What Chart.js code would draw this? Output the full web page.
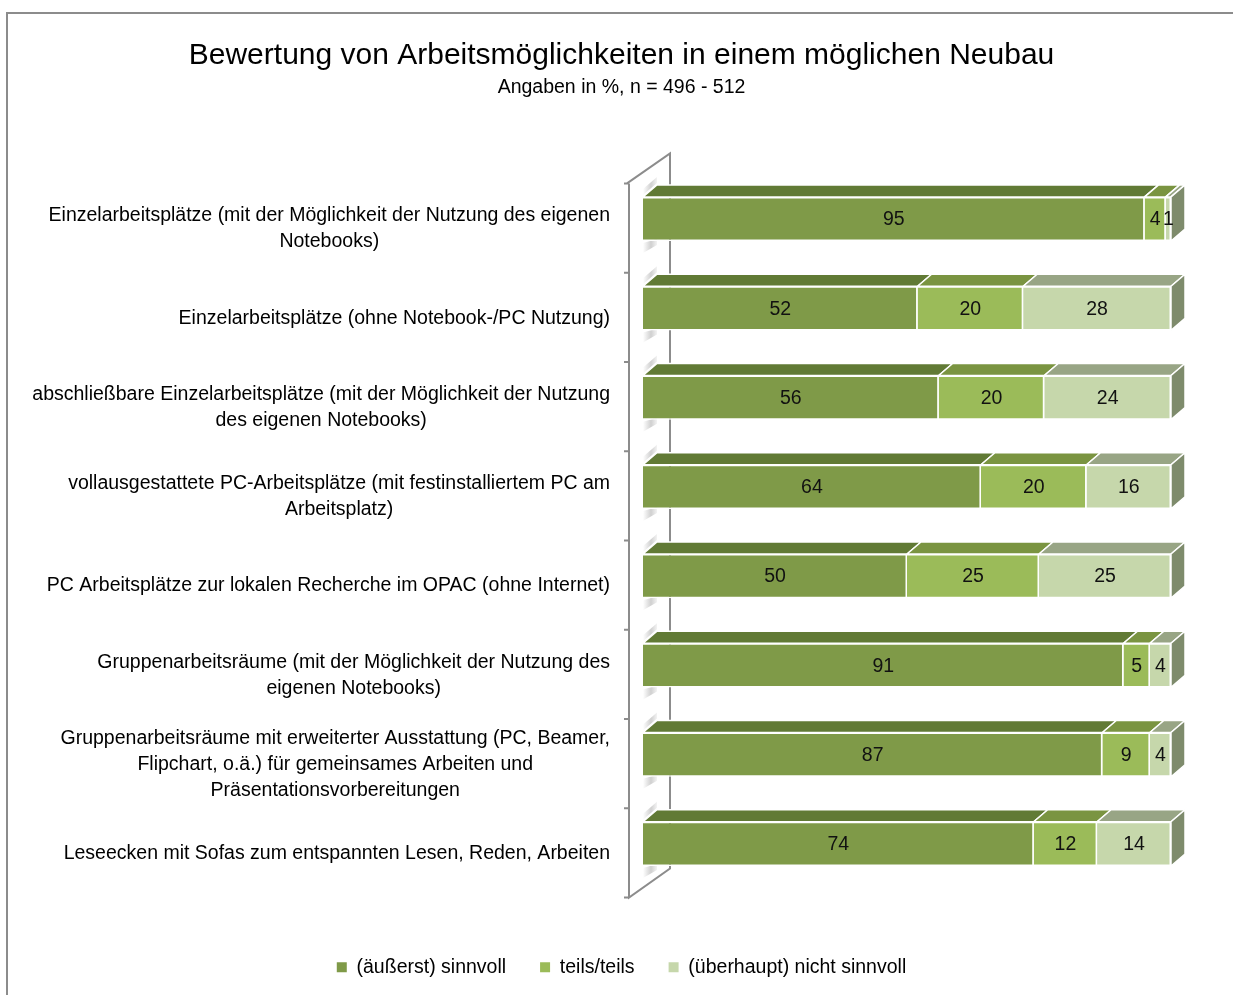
<!DOCTYPE html>
<html>
<head>
<meta charset="utf-8">
<script src="https://cdn.jsdelivr.net/npm/chart.js@4.4.1/dist/chart.umd.min.js"></script>
<style>
  html, body { margin: 0; padding: 0; background: #fff; }
</style>
</head>
<body>
<canvas id="chart" width="1233" height="995"></canvas>
<script>
// Kategorien (mit Zeilenumbrüchen wie im Original)
const categories = [
    ['Einzelarbeitsplätze (mit der Möglichkeit der Nutzung des eigenen', 'Notebooks)'],
    ['Einzelarbeitsplätze (ohne Notebook-/PC Nutzung)'],
    ['abschließbare Einzelarbeitsplätze (mit der Möglichkeit der Nutzung', 'des eigenen Notebooks)'],
    ['vollausgestattete PC-Arbeitsplätze (mit festinstalliertem PC am', 'Arbeitsplatz)'],
    ['PC Arbeitsplätze zur lokalen Recherche im OPAC (ohne Internet)'],
    ['Gruppenarbeitsräume (mit der Möglichkeit der Nutzung des', 'eigenen Notebooks)'],
    ['Gruppenarbeitsräume mit erweiterter Ausstattung (PC, Beamer,', 'Flipchart, o.ä.) für gemeinsames Arbeiten und', 'Präsentationsvorbereitungen'],
    ['Leseecken mit Sofas zum entspannten Lesen, Reden, Arbeiten']
];
const seriesNames = ['(äußerst) sinnvoll', 'teils/teils', '(überhaupt) nicht sinnvoll'];
const sinnvoll = [95, 52, 56, 64, 50, 91, 87, 74];
const teilsTeils = [4, 20, 20, 20, 25, 5, 9, 12];
const nichtSinnvoll = [1, 28, 24, 16, 25, 4, 4, 14];

const frontColors = ['#7F9A48', '#9BBB59', '#C6D7AB'];
const topColors = ['#617A35', '#7A9441', '#98A585'];
const sideColor = '#7E8B6C';
const FONT = "'Liberation Sans', Arial, sans-serif";
const TXT = 19.5;

const DX = 14, DY = 12; // Tiefe der Balken

Chart.defaults.font.family = FONT;
Chart.defaults.color = '#000';

// Rahmen, Wand und Schatten
const backdrop = {
    id: 'backdrop',
    beforeDraw(chart) {
        const ctx = chart.ctx;
        ctx.save();
        ctx.fillStyle = '#fff';
        ctx.fillRect(0, 0, chart.width, chart.height);
        ctx.strokeStyle = '#8c8c8c';
        ctx.lineWidth = 2;
        ctx.beginPath();
        ctx.moveTo(7, chart.height);
        ctx.lineTo(7, 13);
        ctx.lineTo(chart.width, 13);
        ctx.stroke();
        ctx.restore();
    },
    beforeDatasetsDraw(chart) {
        const ctx = chart.ctx;
        const {left, top, bottom} = chart.chartArea;
        const n = categories.length;
        const band = (bottom - top) / n;
        const fx = left - 14, bx = left + 27;
        ctx.save();
        ctx.strokeStyle = '#8c8c8c';
        ctx.lineWidth = 2;
        ctx.beginPath();
        ctx.moveTo(fx - 2, top + 9);
        ctx.lineTo(bx, top - 21);
        ctx.lineTo(bx, bottom - 20);
        ctx.lineTo(fx, bottom + 9);
        ctx.lineTo(fx, top + 9);
        for (let k = 0; k <= n; k++) {
            const ty = top + 9 + k * band;
            ctx.moveTo(fx - 5, ty);
            ctx.lineTo(fx, ty);
        }
        ctx.stroke();

        // weiche Schatten an der Wand
        const meta = chart.getDatasetMeta(0);
        meta.data.forEach(bar => {
            const {y, height} = bar.getProps(['y', 'height'], true);
            const t = y - height / 2, b = y + height / 2;
            let g = ctx.createLinearGradient(left, 0, left + 16, 0);
            g.addColorStop(0, 'rgba(120,120,120,0.0)');
            g.addColorStop(0.5, 'rgba(120,120,120,0.35)');
            g.addColorStop(1, 'rgba(120,120,120,0.0)');
            ctx.fillStyle = g;
            ctx.beginPath();
            ctx.moveTo(left, t - 2);
            ctx.lineTo(left + DX, t - DY - 2);
            ctx.lineTo(left + DX, t - DY - 8);
            ctx.lineTo(left, t - 8);
            ctx.closePath();
            ctx.fill();
            ctx.beginPath();
            ctx.moveTo(left, b + 2);
            ctx.lineTo(left + DX, b - DY + 10);
            ctx.lineTo(left + DX, b - DY + 16);
            ctx.lineTo(left, b + 12);
            ctx.closePath();
            ctx.fill();
        });
        ctx.restore();
    },
    afterDatasetsDraw(chart) {
        const ctx = chart.ctx;
        const last = chart.data.datasets.length - 1;
        ctx.save();
        ctx.strokeStyle = '#fff';
        ctx.lineWidth = 1.5;
        ctx.lineJoin = 'round';
        chart.data.datasets.forEach((ds, di) => {
            const meta = chart.getDatasetMeta(di);
            meta.data.forEach((bar, i) => {
                if (!ds.data[i]) return;
                const {x, y, base, height} = bar.getProps(['x', 'y', 'base', 'height'], true);
                const t = y - height / 2, b = y + height / 2;
                ctx.fillStyle = topColors[di];
                ctx.beginPath();
                ctx.moveTo(base, t);
                ctx.lineTo(base + DX, t - DY);
                ctx.lineTo(x + DX, t - DY);
                ctx.lineTo(x, t);
                ctx.closePath();
                ctx.fill();
                ctx.stroke();
                if (di === last) {
                    ctx.fillStyle = sideColor;
                    ctx.beginPath();
                    ctx.moveTo(x, t);
                    ctx.lineTo(x + DX, t - DY);
                    ctx.lineTo(x + DX, b - DY);
                    ctx.lineTo(x, b);
                    ctx.closePath();
                    ctx.fill();
                    ctx.stroke();
                }
            });
        });

        // Werte
        ctx.fillStyle = '#111';
        ctx.font = TXT + 'px ' + FONT;
        ctx.textAlign = 'center';
        ctx.textBaseline = 'middle';
        chart.data.datasets.forEach((ds, di) => {
            const meta = chart.getDatasetMeta(di);
            meta.data.forEach((bar, i) => {
                if (!ds.data[i]) return;
                const {x, y, base} = bar.getProps(['x', 'y', 'base'], true);
                ctx.fillText(String(ds.data[i]), (x + base) / 2, y + 1);
            });
        });
        ctx.restore();
    },
    afterDraw(chart) {
        // Kategorienbeschriftung: Block rechtsbündig, Zeilen zentriert
        const ctx = chart.ctx;
        const yScale = chart.scales.y;
        const right = chart.chartArea.left - 33;
        ctx.save();
        ctx.fillStyle = '#000';
        ctx.font = TXT + 'px ' + FONT;
        ctx.textAlign = 'center';
        ctx.textBaseline = 'middle';
        categories.forEach((lines, i) => {
            const cy = yScale.getPixelForValue(i) + 10;
            const w = Math.max(...lines.map(l => ctx.measureText(l).width));
            const cx = right - w / 2;
            lines.forEach((l, j) => {
                ctx.fillText(l, cx, cy + (j - (lines.length - 1) / 2) * 26);
            });
        });
        ctx.restore();
    }
};

new Chart(document.getElementById('chart'), {
    type: 'bar',
    data: {
        labels: categories.map(l => l.join(' ')),
        datasets: [
            { label: seriesNames[0], data: sinnvoll, backgroundColor: frontColors[0] },
            { label: seriesNames[1], data: teilsTeils, backgroundColor: frontColors[1] },
            { label: seriesNames[2], data: nichtSinnvoll, backgroundColor: frontColors[2] }
        ]
    },
    options: {
        indexAxis: 'y',
        responsive: false,
        animation: false,
        datasets: {
            bar: {
                borderColor: '#fff',
                borderWidth: 1.5,
                categoryPercentage: 1,
                barPercentage: 0.495
            }
        },
        layout: {
            padding: { top: 13, left: 72, right: 62, bottom: 8 }
        },
        scales: {
            x: {
                stacked: true,
                min: 0,
                max: 100,
                ticks: { display: false },
                grid: { display: false },
                border: { display: false },
                afterFit(scale) { scale.height = 35; }
            },
            y: {
                stacked: true,
                ticks: { display: false },
                grid: { display: false },
                border: { display: false },
                afterFit(scale) { scale.width = 571; }
            }
        },
        plugins: {
            title: {
                display: true,
                text: 'Bewertung von Arbeitsmöglichkeiten in einem möglichen Neubau',
                font: { size: 30, weight: 'normal' },
                color: '#000',
                padding: { top: 25, bottom: 2 }
            },
            subtitle: {
                display: true,
                text: 'Angaben in %, n = 496 - 512',
                font: { size: TXT },
                color: '#000',
                padding: { top: 0, bottom: 75 }
            },
            legend: {
                position: 'bottom',
                labels: {
                    boxWidth: 10,
                    boxHeight: 10,
                    padding: 34,
                    font: { size: TXT },
                    color: '#000',
                    generateLabels(chart) {
                        return chart.data.datasets.map((ds, i) => ({
                            text: ds.label,
                            fillStyle: frontColors[i],
                            strokeStyle: frontColors[i],
                            lineWidth: 0,
                            fontColor: '#000',
                            datasetIndex: i
                        }));
                    }
                }
            },
            tooltip: { enabled: false }
        }
    },
    plugins: [backdrop]
});
</script>
</body>
</html>
